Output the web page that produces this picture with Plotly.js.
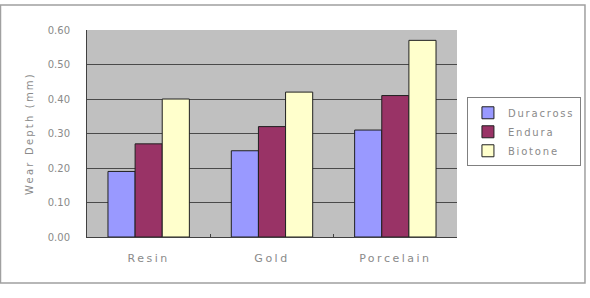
<!DOCTYPE html>
<html>
<head>
<meta charset="utf-8">
<script src="https://cdn.plot.ly/plotly-3.0.1.min.js"></script>
<style>
html,body{margin:0;padding:0;background:#fff;}
#chart{width:590px;height:298px;}
.xtick text {letter-spacing:2.5px;}
.legendtext {letter-spacing:1.8px;}
.ytitle {letter-spacing:2.2px;}
</style>
</head>
<body>
<div id="chart"></div>
<script>
var categories = ["Resin", "Gold", "Porcelain"];
var duracross = [0.19, 0.25, 0.31];
var endura = [0.27, 0.32, 0.41];
var biotone = [0.40, 0.42, 0.57];
var yTickVals = [0, 0.1, 0.2, 0.3, 0.4, 0.5, 0.6];
var yTickText = ["0.00", "0.10", "0.20", "0.30", "0.40", "0.50", "0.60"];

var lineStyle = {color: "#202020", width: 1};
var traces = [
  {type: "bar", name: "Duracross", x: categories, y: duracross, marker: {color: "#9999FF", line: lineStyle}},
  {type: "bar", name: "Endura", x: categories, y: endura, marker: {color: "#993366", line: lineStyle}},
  {type: "bar", name: "Biotone", x: categories, y: biotone, marker: {color: "#FFFFCC", line: lineStyle}}
];

var textFont = {family: "DejaVu Sans, Arial, sans-serif", size: 10, color: "#8a8a8a"};
var bigFont = {family: "DejaVu Sans, Arial, sans-serif", size: 11, color: "#8a8a8a"};

var layout = {
  width: 590, height: 298,
  margin: {l: 87, r: 133, t: 30, b: 61, pad: 0, autoexpand: false},
  paper_bgcolor: "#ffffff",
  plot_bgcolor: "#C0C0C0",
  barmode: "group",
  bargap: 0.34,
  bargroupgap: 0,
  font: textFont,
  showlegend: true,
  legend: {
    x: 1.335, y: 0.675, xanchor: "right", yanchor: "top",
    bordercolor: "#808080", borderwidth: 1, bgcolor: "#ffffff",
    font: textFont,
    itemwidth: 30, tracegroupgap: 0
  },
  xaxis: {
    type: "category",
    showline: true, linecolor: "#404040", linewidth: 1,
    ticks: "inside", tickson: "boundaries", ticklen: 3, tickcolor: "#404040",
    ticklabelstandoff: 11,
    tickfont: bigFont,
    showgrid: false, zeroline: false, mirror: false
  },
  yaxis: {
    range: [0, 0.6],
    tickvals: yTickVals, ticktext: yTickText,
    showline: true, linecolor: "#404040", linewidth: 1,
    showgrid: true, gridcolor: "#4a4a4a", gridwidth: 1,
    zeroline: false, ticks: "",
    ticklabelstandoff: 14,
    tickfont: textFont,
    title: {text: "Wear Depth (mm)", font: textFont, standoff: 12}
  },
  shapes: [
    {type: "rect", xref: "paper", yref: "paper",
     x0: -0.2338, x1: 1.3459, y0: -0.2222, y1: 1.1208,
     line: {color: "#a0a0a0", width: 1.5}, fillcolor: "rgba(0,0,0,0)", layer: "below"}
  ]
};

Plotly.newPlot("chart", traces, layout, {displayModeBar: false, staticPlot: true});
</script>
</body>
</html>
